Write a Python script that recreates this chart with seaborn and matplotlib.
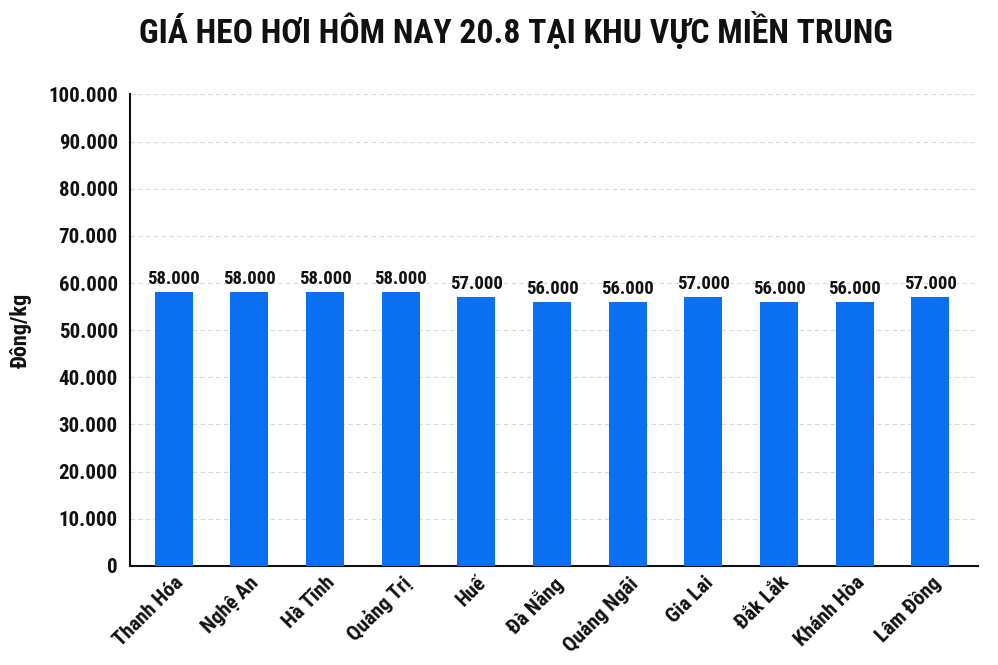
import matplotlib
matplotlib.use("Agg")
import matplotlib.pyplot as plt
from matplotlib import font_manager
from matplotlib.ticker import FuncFormatter
import seaborn as sns
import pandas as pd

# Du lieu gia heo hoi mien Trung
provinces = ["Thanh Hóa", "Nghệ An", "Hà Tĩnh", "Quảng Trị", "Huế", "Đà Nẵng",
             "Quảng Ngãi", "Gia Lai", "Đắk Lắk", "Khánh Hòa", "Lâm Đồng"]
prices = [58000, 58000, 58000, 58000, 57000, 56000, 56000, 57000, 56000, 56000, 57000]
y_ticks = list(range(0, 100001, 10000))

title = "GIÁ HEO HƠI HÔM NAY 20.8 TẠI KHU VỰC MIỀN TRUNG"
bar_color = "#0b6ff2"


def dotted(v):
    # 58000 -> 58.000
    return f"{int(v):,}".replace(",", ".")


def main():
    sns.set_style("white")
    names = {f.name for f in font_manager.fontManager.ttflist}
    fam = "Roboto Condensed" if "Roboto Condensed" in names else "Roboto"
    plt.rcParams["font.family"] = [fam, "DejaVu Sans"]
    plt.rcParams["font.weight"] = "bold"

    df = pd.DataFrame({"province": provinces, "price": prices})

    fig, ax = plt.subplots(figsize=(9.98, 6.65), dpi=100)
    fig.subplots_adjust(left=0.13, right=0.98, top=0.858, bottom=0.149)

    sns.barplot(data=df, x="province", y="price", color=bar_color,
                saturation=1, width=0.5, linewidth=0, ax=ax, zorder=3)

    for c in ax.containers:
        ax.bar_label(c, labels=[dotted(v) for v in prices], padding=3,
                     fontsize=13.5, fontweight="bold", color="#111111")

    ax.set_ylim(0, 100000)
    ax.set_xlim(-0.58, 10.63)
    ax.set_yticks(y_ticks)
    ax.yaxis.set_major_formatter(FuncFormatter(lambda v, p: dotted(v)))
    ax.grid(axis="y", linestyle=(0, (4, 3)), color="#d9d9d9", linewidth=0.8, zorder=0)
    ax.tick_params(axis="y", length=5, width=1.2, labelsize=15, color="#111111",
                   labelcolor="#111111")
    ax.tick_params(axis="x", length=0, labelsize=15, pad=5, labelcolor="#111111")
    plt.setp(ax.get_xticklabels(), rotation=45, ha="right", rotation_mode="anchor")
    plt.setp(ax.get_yticklabels(), fontweight="bold")
    plt.setp(ax.get_xticklabels(), fontweight="bold")

    sns.despine(ax=ax)
    for s in ("left", "bottom"):
        ax.spines[s].set_color("#111111")
        ax.spines[s].set_linewidth(1.5)

    ax.set_xlabel("")
    ax.set_ylabel("Đông/kg", fontsize=16, fontweight="bold", labelpad=12,
                  color="#111111")

    fig.suptitle(title, x=0.517, y=0.982, fontsize=24.2, fontweight="bold",
                 color="#111111")

    fig.savefig("out.png", dpi=100)


if __name__ == '__main__':
    main()
